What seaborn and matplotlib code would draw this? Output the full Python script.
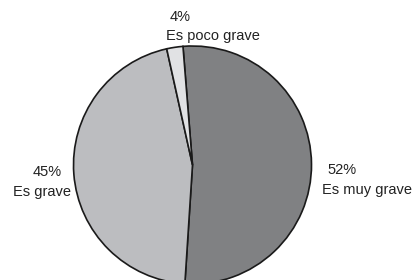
import matplotlib
matplotlib.use("Agg")
import matplotlib.pyplot as plt
import seaborn as sns

# Data
categories = ["Es muy grave", "Es grave", "Es poco grave"]
shares = [52.3, 45.5, 2.2]          # wedge sizes as drawn
pct_labels = ["52%", "45%", "4%"]   # printed labels
colors = ["#808183", "#bcbdc0", "#e1e2e4"]

sns.set_theme(style="white")
plt.rcParams["font.family"] = ["Liberation Sans", "DejaVu Sans"]

W, H = 417, 280
fig = plt.figure(figsize=(W / 100, H / 100), dpi=100)
fig.patch.set_facecolor("white")

cx, cy, r = 192.5, 165.0, 119.0  # pixel geometry of the pie (from top-left)
ax = fig.add_axes([(cx - r) / W, (H - cy - r) / H, 2 * r / W, 2 * r / H])
ax.pie(shares, colors=colors, startangle=94.6, counterclock=False,
       wedgeprops=dict(edgecolor="#1a1a1a", linewidth=1.2))
ax.set_xlim(-1, 1)
ax.set_ylim(-1, 1)
ax.set_aspect("auto")
ax.axis("off")

def txt(s, x, y):
    fig.text(x / W, 1 - y / H, s, ha="center", va="center",
             fontsize=10.5, color="#222222")

# label placement (pixels)
pos = {
    "Es muy grave": ((342, 170), (367, 190)),
    "Es grave": ((47, 172), (42, 192)),
    "Es poco grave": ((180, 17), (213, 36)),
}
for cat, pct in zip(categories, pct_labels):
    (px, py), (lx, ly) = pos[cat]
    txt(pct, px, py)
    txt(cat, lx, ly)

fig.savefig("out.png", dpi=100, facecolor="white")
